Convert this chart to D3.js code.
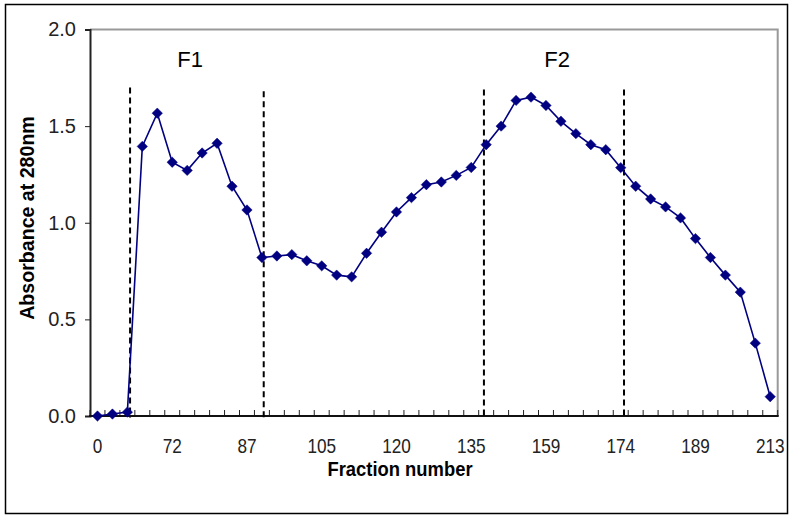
<!DOCTYPE html>
<html>
<head>
<meta charset="utf-8">
<script src="https://cdn.jsdelivr.net/npm/d3@7"></script>
<style>
  html, body { margin: 0; padding: 0; background: #fff; }
  svg { display: block; }
</style>
</head>
<body>
<div id="chart"></div>
<script>
// ---- data ----
const categories = [
  "0", "", "", "", "", "72", "", "", "", "",
  "87", "", "", "", "", "105", "", "", "", "",
  "120", "", "", "", "", "135", "", "", "", "",
  "159", "", "", "", "", "174", "", "", "", "",
  "189", "", "", "", "", "213"
];
const absorbance = [
  0.00, 0.01, 0.02, 1.395, 1.567, 1.313, 1.271, 1.361, 1.411, 1.189,
  1.066, 0.820, 0.828, 0.835, 0.803, 0.777, 0.729, 0.720, 0.842, 0.951,
  1.056, 1.130, 1.197, 1.211, 1.245, 1.286, 1.404, 1.500, 1.633, 1.650,
  1.607, 1.525, 1.461, 1.404, 1.378, 1.285, 1.189, 1.123, 1.082, 1.025,
  0.918, 0.820, 0.729, 0.641, 0.377, 0.100
];
const yTicks = [0, 0.5, 1.0, 1.5, 2.0];
const dividers = [2.18, 11.12, 25.85, 35.22];       // in category-index units
const dividerTops = [1.70, 1.68, 1.69, 1.69];       // absorbance units
const regionLabels = ["F1", "F2"];
const regionLabelAt = [6.2, 30.75];                 // category-index units
const xTitle = "Fraction number";
const yTitle = "Absorbance at 280nm";

// ---- layout ----
const W = 790, H = 518;
const mLeft = 90, mRight = 777.7, mTop = 29.5, mBottom = 416;
const navy = "#000080";
const font = "'Liberation Sans', Arial, sans-serif";

const svg = d3.select("#chart").append("svg")
  .attr("width", W).attr("height", H);

svg.append("rect").attr("x", 0).attr("y", 0).attr("width", W).attr("height", H).attr("fill", "#fff");
svg.append("rect").attr("x", 5.5).attr("y", 4.5).attr("width", 782).attr("height", 509)
  .attr("fill", "none").attr("stroke", "#000").attr("stroke-width", 1.5);

const idx = d3.range(categories.length);
const x = d3.scaleBand().domain(idx).range([mLeft, mRight]).padding(0);
const xc = i => x(i) + x.bandwidth() / 2;
const xPos = d3.scaleLinear().domain([-0.5, categories.length - 0.5]).range([mLeft, mRight]);
const y = d3.scaleLinear().domain([0, 2]).range([mBottom, mTop]);

// plot frame: top and right gray
svg.append("path")
  .attr("d", `M${mLeft},${mTop}H${mRight}V${mBottom}`)
  .attr("fill", "none").attr("stroke", "#999").attr("stroke-width", 2);

// Y axis
const yAxis = d3.axisLeft(y).tickValues(yTicks).tickFormat(d3.format(".1f")).tickSize(5).tickPadding(9);
const gy = svg.append("g").attr("transform", `translate(${mLeft},0)`).call(yAxis);
gy.select(".domain").attr("stroke", "#222").attr("stroke-width", 2);
gy.selectAll(".tick line").attr("stroke", "#222").attr("stroke-width", 1);
gy.selectAll(".tick text")
  .attr("font-family", font)
  .attr("font-size", 20).attr("fill", "#222");

// X axis: tick marks at band boundaries pointing inward
const bounds = d3.range(categories.length + 1);
svg.append("g").selectAll("line").data(bounds).join("line")
  .attr("x1", d => xPos(d - 0.5)).attr("x2", d => xPos(d - 0.5))
  .attr("y1", mBottom).attr("y2", mBottom - 6)
  .attr("stroke", "#222").attr("stroke-width", 1);
svg.append("line").attr("x1", mLeft - 1).attr("x2", mRight + 1).attr("y1", mBottom).attr("y2", mBottom)
  .attr("stroke", "#111").attr("stroke-width", 2);

// X tick labels
svg.append("g").selectAll("text").data(idx.filter(i => categories[i] !== "")).join("text")
  .attr("transform", i => `translate(${xc(i)},${mBottom + 37}) scale(0.86,1)`)
  .attr("text-anchor", "middle")
  .attr("font-family", font)
  .attr("font-size", 20).attr("fill", "#222")
  .text(i => categories[i]);

// dividers
svg.append("g").selectAll("line").data(dividers).join("line")
  .attr("x1", d => xPos(d)).attr("x2", d => xPos(d))
  .attr("y1", (d, i) => y(dividerTops[i])).attr("y2", mBottom + 2)
  .attr("stroke", "#000").attr("stroke-width", 2).attr("stroke-dasharray", "6,4");

// region labels
svg.append("g").selectAll("text").data(regionLabels).join("text")
  .attr("x", (d, i) => xPos(regionLabelAt[i])).attr("y", 67)
  .attr("text-anchor", "middle")
  .attr("font-family", font)
  .attr("font-size", 22).attr("fill", "#000")
  .text(d => d);

// line
const line = d3.line().x((d, i) => xc(i)).y(d => y(d));
svg.append("path").datum(absorbance)
  .attr("d", line).attr("fill", "none").attr("stroke", navy).attr("stroke-width", 1.6);

// markers (diamonds)
const r = 5.2;
svg.append("g").selectAll("path").data(absorbance).join("path")
  .attr("d", (d, i) => {
    const cx = xc(i), cy = y(d);
    return `M${cx},${cy - r}L${cx + r},${cy}L${cx},${cy + r}L${cx - r},${cy}Z`;
  })
  .attr("fill", navy).attr("stroke", navy).attr("stroke-width", 0.5);

// axis titles
svg.append("text")
  .attr("transform", `translate(400,476) scale(0.92,1.05)`)
  .attr("text-anchor", "middle")
  .attr("font-family", font)
  .attr("font-weight", "bold").attr("font-size", 20).attr("fill", "#000")
  .text(xTitle);
svg.append("text")
  .attr("transform", `translate(34,218) rotate(-90) scale(0.98,1.05)`)
  .attr("text-anchor", "middle")
  .attr("font-family", font)
  .attr("font-weight", "bold").attr("font-size", 20).attr("fill", "#000")
  .text(yTitle);
</script>
</body>
</html>
